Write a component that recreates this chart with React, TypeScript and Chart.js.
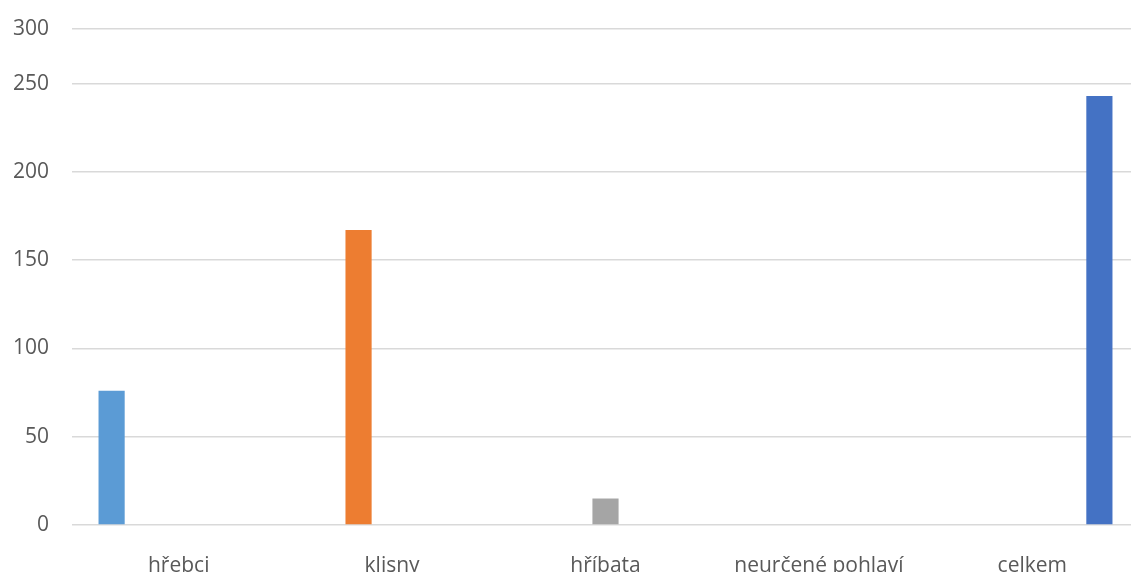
import React, { useEffect, useRef } from "react";
import { Chart, registerables, LinearScale } from "chart.js";

Chart.register(...registerables);

// Categories along the horizontal axis
const categories = ["hřebci", "klisny", "hříbata", "neurčené pohlaví", "celkem"];

// One series per category (each holds a value only in its own column)
const seriesNames = ["hřebci", "klisny", "hříbata", "neurčené pohlaví", "celkem"];
const hrebciValues = [76, null, null, null, null];
const klisnyValues = [null, 167, null, null, null];
const hribataValues = [null, null, 15, null, null];
const neurceneValues = [null, null, null, 0, null];
const celkemValues = [null, null, null, null, 243];

const seriesColors = ["#5B9BD5", "#ED7D31", "#A5A5A5", "#FFC000", "#4472C4"];

// Value axis ticks
const yTicks = [0, 50, 100, 150, 200, 250, 300];

// The top band (250–300) of the value axis is drawn compressed.
const BREAK_VALUE = 250;
const BREAK_DECIMAL = 0.89;

class CompressedTopScale extends LinearScale {
  static id = "compressedTop";
  static defaults = LinearScale.defaults;

  toDecimal(value: number) {
    const min = this.min as number;
    const max = this.max as number;
    if (value <= BREAK_VALUE) {
      return ((value - min) / (BREAK_VALUE - min)) * BREAK_DECIMAL;
    }
    return BREAK_DECIMAL + ((value - BREAK_VALUE) / (max - BREAK_VALUE)) * (1 - BREAK_DECIMAL);
  }

  getPixelForValue(value: number) {
    if (value === null || value === undefined) return NaN;
    return this.getPixelForDecimal(this.toDecimal(value));
  }

  getValueForPixel(pixel: number) {
    const d = this.getDecimalForPixel(pixel);
    const min = this.min as number;
    const max = this.max as number;
    if (d <= BREAK_DECIMAL) return min + (d / BREAK_DECIMAL) * (BREAK_VALUE - min);
    return BREAK_VALUE + ((d - BREAK_DECIMAL) / (1 - BREAK_DECIMAL)) * (max - BREAK_VALUE);
  }
}

Chart.register(CompressedTopScale);

const seriesValues = [hrebciValues, klisnyValues, hribataValues, neurceneValues, celkemValues];

const FONT = "'Open Sans', 'Noto Sans', sans-serif";

export default function App() {
  const canvasRef = useRef<HTMLCanvasElement | null>(null);

  useEffect(() => {
    if (!canvasRef.current) return;
    const chart = new Chart(canvasRef.current, {
      type: "bar",
      data: {
        labels: categories,
        datasets: seriesNames.map((name, i) => ({
          label: name,
          data: seriesValues[i],
          backgroundColor: seriesColors[i],
          borderWidth: 0,
          barPercentage: 0.78,
          categoryPercentage: 0.786,
        })),
      },
      options: {
        animation: false,
        responsive: true,
        maintainAspectRatio: false,
        layout: { padding: { top: 29, right: 1, left: 0, bottom: 0 } },
        plugins: {
          legend: { display: false },
          tooltip: { enabled: false },
        },
        scales: {
          x: {
            grid: { display: false, drawTicks: false },
            border: { display: false },
            ticks: {
              color: "#595959",
              font: { family: FONT, size: 21 },
              padding: 28,
              maxRotation: 0,
              autoSkip: false,
            },
            afterFit: (scale: any) => {
              scale.height = 47;
              scale.paddingLeft = 0;
              scale.paddingRight = 0;
            },
          },
          y: {
            type: "compressedTop" as any,
            min: 0,
            max: 300,
            afterBuildTicks: (scale: any) => {
              scale.ticks = yTicks.map((v) => ({ value: v }));
            },
            grid: { color: "#D9D9D9", lineWidth: 1.5, drawTicks: false },
            border: { display: false },
            ticks: {
              color: "#595959",
              font: { family: FONT, size: 21 },
              padding: 23,
            },
            afterFit: (scale: any) => {
              scale.width = 72;
              scale.paddingTop = 0;
              scale.paddingBottom = 0;
            },
          },
        },
      },
    });
    return () => chart.destroy();
  }, []);

  return (
    <div
      style={{
        position: "fixed",
        left: 0,
        top: 0,
        width: 1131,
        height: 572,
        overflow: "hidden",
        background: "#ffffff",
      }}
    >
      <div style={{ position: "relative", width: 1140, height: 572 }}>
        <canvas ref={canvasRef} />
      </div>
    </div>
  );
}
